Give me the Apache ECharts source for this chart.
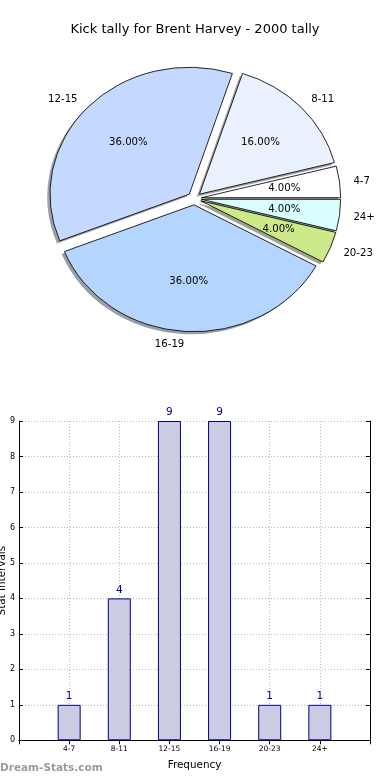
<!DOCTYPE html>
<html><head><meta charset="utf-8">
<script src="https://cdn.jsdelivr.net/npm/echarts@6/dist/echarts.min.js"></script>
<style>
html,body{margin:0;padding:0;background:#fff;}
#main{position:absolute;left:0;top:0;width:390px;height:780px;}
#pie{position:absolute;left:0;top:0;width:390px;height:370px;transform-origin:194.4px 0;transform:scaleX(1.098);}
</style></head><body>
<div id="main"></div><div id="pie"></div>
<script>
// ---- data ----
const titleText = 'Kick tally for Brent Harvey - 2000 tally';
const categories = ['4-7', '8-11', '12-15', '16-19', '20-23', '24+'];
const counts = [1, 4, 9, 9, 1, 1];
const sliceColors = ['#ffffff', '#e9f0fe', '#c5d9fe', '#b4d5fe', '#cdea8b', '#d8fefe'];
const xAxisTitle = 'Frequency';
const yAxisTitle = 'Stat Intervals';
const watermark = 'Dream-Stats.com';

// ---- layout constants ----
const R = 126.9, CX = 194.4, CY = 198.5, EXPL = 6.35, SH = 2.54;
const FONT = 'DejaVu Sans';
const PIEFONT = 'DejaVu Sans Condensed';

function shadowColor(hex) {
  const r = parseInt(hex.slice(1, 3), 16), g = parseInt(hex.slice(3, 5), 16), b = parseInt(hex.slice(5, 7), 16);
  return 'rgba(' + Math.round(r * 0.3) + ',' + Math.round(g * 0.3) + ',' + Math.round(b * 0.3) + ',0.5)';
}

const pieBase = {
  type: 'pie', startAngle: 0, clockwise: false, selectedMode: 'multiple',
  selectedOffset: EXPL, avoidLabelOverlap: false, animation: false,
  emphasis: { disabled: true }
};

const pie = echarts.init(document.getElementById('pie'), null, { renderer: 'svg' });
pie.setOption({
  animation: false,
  series: [
    Object.assign({}, pieBase, {
      z: 1, silent: true, center: [CX - SH, CY + SH], radius: [0, R],
      label: { show: false }, labelLine: { show: false },
      data: categories.map((c, i) => ({ name: c, value: counts[i], selected: true,
        itemStyle: { color: shadowColor(sliceColors[i]), borderWidth: 0 } }))
    }),
    Object.assign({}, pieBase, {
      z: 2, center: [CX, CY], radius: [0, R],
      itemStyle: { borderColor: '#000', borderWidth: 0.8 },
      label: { show: true, position: 'outside', formatter: '{b}', fontFamily: PIEFONT, fontSize: 10.3,
        color: '#000', distanceToLabelLine: 0 },
      labelLine: { show: false, length: 0.1 * R, length2: 0 },
      data: categories.map((c, i) => ({ name: c, value: counts[i], selected: true,
        itemStyle: { color: sliceColors[i] } }))
    }),
    Object.assign({}, pieBase, {
      z: 3, silent: true, center: [CX, CY], radius: [0, 1.2 * R - 6],
      itemStyle: { color: 'rgba(0,0,0,0)', borderWidth: 0 },
      label: { show: true, position: 'inside', fontFamily: PIEFONT, fontSize: 10.3, color: '#000',
        formatter: p => p.percent.toFixed(2) + '%' },
      labelLine: { show: false },
      data: categories.map((c, i) => ({ name: c, value: counts[i], selected: true }))
    })
  ]
});

const main = echarts.init(document.getElementById('main'));
const padCats = [''].concat(categories, ['']);
const padVals = ['-'].concat(counts, ['-']);
const axisLineStyle = { color: '#000', width: 1 };
const gridLine = { show: true, lineStyle: { color: '#bbbbbb', width: 1, type: [1, 2] } };
main.setOption({
  animation: false,
  backgroundColor: '#fff',
  title: { text: titleText, left: 'center', top: 23, padding: 0,
    textStyle: { fontFamily: FONT, fontSize: 13, fontWeight: 'normal', color: '#000' } },
  grid: { left: 19, right: 20, top: 421, bottom: 39.7, containLabel: false, outerBoundsMode: 'none' },
  xAxis: [
    { type: 'category', data: padCats, boundaryGap: false,
      axisLine: { lineStyle: axisLineStyle },
      axisTick: { inside: true, length: 4, interval: 0, lineStyle: { color: '#000' } },
      axisLabel: { interval: 0, fontFamily: FONT, fontSize: 7.5, color: '#000', margin: 5 },
      splitLine: Object.assign({ interval: 0 }, gridLine),
      name: xAxisTitle, nameLocation: 'middle', nameGap: 20, nameMoveOverlap: false,
      nameTextStyle: { fontFamily: FONT, fontSize: 10.4, color: '#000' } },
    { type: 'category', position: 'top', data: padCats, boundaryGap: false,
      axisLine: { lineStyle: axisLineStyle },
      axisTick: { inside: true, length: 4, interval: 0, lineStyle: { color: '#000' } },
      axisLabel: { show: false }, splitLine: { show: false } }
  ],
  yAxis: [
    { type: 'value', min: 0, max: 9, interval: 1,
      axisLine: { show: true, lineStyle: axisLineStyle },
      axisTick: { show: true, inside: true, length: 4, lineStyle: { color: '#000' } },
      axisLabel: { fontFamily: FONT, fontSize: 8, color: '#000', margin: 4 },
      splitLine: gridLine,
      name: yAxisTitle, nameLocation: 'middle', nameGap: 12, nameRotate: 90, nameMoveOverlap: false,
      nameTextStyle: { fontFamily: FONT, fontSize: 10.4, color: '#000' } },
    { type: 'value', min: 0, max: 9, interval: 1, position: 'right',
      axisLine: { show: true, lineStyle: axisLineStyle },
      axisTick: { show: true, inside: true, length: 4, lineStyle: { color: '#000' } },
      axisLabel: { show: false }, splitLine: { show: false } }
  ],
  series: [{
    type: 'bar', data: padVals, barWidth: 23, xAxisIndex: 0, yAxisIndex: 0,
    itemStyle: { color: '#cbcbe4', borderColor: '#000080', borderWidth: 1 },
    label: { show: true, position: 'top', distance: 3, fontFamily: FONT, fontSize: 10.5, color: '#00008b' }
  }],
  graphic: [{ type: 'text', left: 0, top: 763,
    style: { text: watermark, fill: '#9b9b9b', font: 'bold 10.5px "DejaVu Sans"' } }]
});
</script>
</body></html>
